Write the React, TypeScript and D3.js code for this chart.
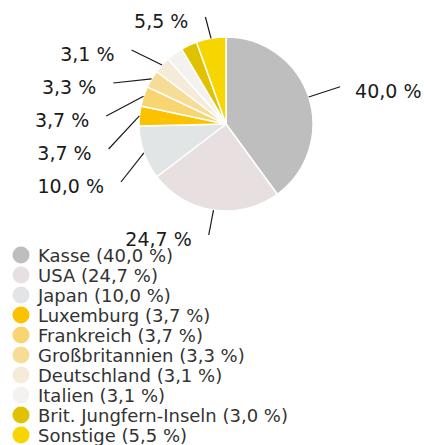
import React from "react";
import * as d3 from "d3";

const categories = [
  "Kasse",
  "USA",
  "Japan",
  "Luxemburg",
  "Frankreich",
  "Großbritannien",
  "Deutschland",
  "Italien",
  "Brit. Jungfern-Inseln",
  "Sonstige",
];
const values = [40.0, 24.7, 10.0, 3.7, 3.7, 3.3, 3.1, 3.1, 3.0, 5.5];
const colors = [
  "#bebebe",
  "#e8e0e0",
  "#e2e5e5",
  "#fcc200",
  "#f8d570",
  "#f6dc94",
  "#f4ecd9",
  "#f3f2ee",
  "#e1c200",
  "#f6d500",
];

const W = 424;
const H = 445;
const FONT = "'DejaVu Sans', sans-serif";

const fmt = (v: number) => v.toFixed(1).replace(".", ",") + " %";

export default function App() {
  const cx = 226;
  const cy = 124;
  const r = 87;
  const R = r + 33;
  const spacing = 33;
  const topLimit = 17;
  const bottomLimit = 235;

  const arcs = d3.pie<number>().sort(null).value((d) => d)(values);
  const arcGen = d3.arc<d3.PieArcDatum<number>>().innerRadius(0).outerRadius(r);

  type Lab = { i: number; mid: number; nx: number; ny: number; x: number; y: number; left: boolean };
  const items: Lab[] = arcs.map((a, i) => {
    const mid = (a.startAngle + a.endAngle) / 2;
    const nx = cx + R * Math.sin(mid);
    const ny = cy - R * Math.cos(mid);
    return { i, mid, nx, ny, x: nx, y: ny, left: mid > Math.PI };
  });

  const placed: Lab[] = [];
  [true, false].forEach((side) => {
    let group = items.filter((d) => d.left === side).sort((a, b) => a.ny - b.ny);
    const capacity = Math.floor((bottomLimit - topLimit) / spacing) + 1;
    while (group.length > capacity) {
      let drop = group[0];
      group.forEach((g) => {
        if (values[g.i] < values[drop.i] || (values[g.i] === values[drop.i] && g.i > drop.i)) drop = g;
      });
      group = group.filter((g) => g !== drop);
    }
    let prev: number | null = null;
    group.forEach((g) => {
      let y = Math.min(Math.max(g.ny, topLimit), bottomLimit);
      let pushed = false;
      if (prev !== null && y < prev + spacing) {
        y = prev + spacing;
        pushed = true;
      }
      const dy = y - cy;
      const dx = Math.sqrt(Math.max(R * R - dy * dy, 0));
      g.y = y;
      g.x = pushed ? cx + (side ? -dx : dx) : g.nx;
      prev = y;
      placed.push(g);
    });
  });

  const legendTop = 255;
  const legendStep = 20;

  return (
    <svg
      width={W}
      height={H}
      style={{ position: "absolute", left: 0, top: 0, background: "#fff" }}
      fontFamily={FONT}
    >
      <g>
        {arcs.map((a, i) => (
          <path
            key={i}
            d={arcGen(a) || ""}
            transform={`translate(${cx},${cy})`}
            fill={colors[i]}
            stroke="#fff"
            strokeWidth={1.5}
            strokeLinejoin="round"
          />
        ))}
      </g>
      <g>
        {categories.map((c, i) => {
          const y = legendTop + i * legendStep;
          return (
            <g key={c}>
              <circle cx={21} cy={y} r={8.5} fill={colors[i]} />
              <text x={38} y={y + 6.5} fontSize={18} fill="#333">
                {`${c} (${fmt(values[i])})`}
              </text>
            </g>
          );
        })}
      </g>
      <g>
        {placed.map((p) => {
          const sx = cx + r * Math.sin(p.mid);
          const sy = cy - r * Math.cos(p.mid);
          return (
            <g key={p.i}>
              <line x1={sx} y1={sy} x2={p.x} y2={p.y} stroke="#1a1a1a" strokeWidth={1.2} />
              <text
                x={p.left ? p.x - 17 : p.x + 15}
                y={p.y + 11}
                textAnchor={p.left ? "end" : "start"}
                fontSize={19}
                fill="#1a1a1a"
              >
                {fmt(values[p.i])}
              </text>
            </g>
          );
        })}
      </g>
    </svg>
  );
}
